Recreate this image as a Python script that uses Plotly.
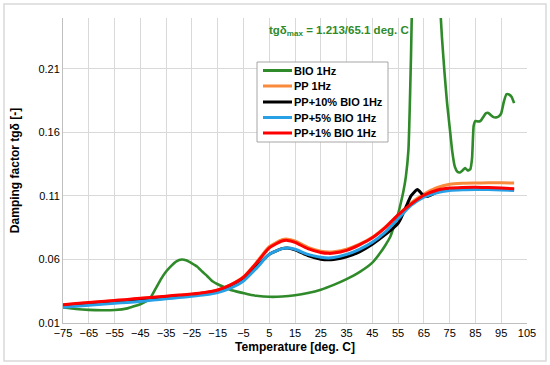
import plotly.graph_objects as go

# ---- data ----
bio_x = [-75, -70, -65, -60, -55, -50, -47.5, -45, -43, -41, -39, -37, -35, -33, -31, -29, -27, -25,
         -23, -21, -19, -17, -15, -12, -10, -5, -2, 0, 5, 10, 15, 20, 25, 30, 35, 40, 45, 48, 50, 52,
         54, 55, 56, 57, 58, 59, 60, 61, 62, 63, 64, 65.1, 66, 67, 68, 69, 70, 71, 72, 73, 74, 75,
         76, 77, 78, 79, 80, 81, 82, 83, 83.7, 84.3, 85, 86, 87, 88, 89, 90, 91, 92, 93, 94, 95, 96,
         97, 98, 99, 100]
bio_y = [0.0222, 0.0210, 0.0203, 0.0200, 0.0202, 0.0215, 0.0231, 0.0248, 0.0268, 0.0300, 0.0372,
         0.0445, 0.0505, 0.0550, 0.0585, 0.0600, 0.0592, 0.0570, 0.0545, 0.0505, 0.0468, 0.0428,
         0.0405, 0.0378, 0.0360, 0.0335, 0.0320, 0.0314, 0.0306, 0.0308, 0.0318, 0.0336, 0.0362,
         0.0400, 0.0445, 0.0500, 0.0575, 0.0650, 0.0710, 0.0780, 0.0900, 0.0960, 0.1040, 0.1130,
         0.1250, 0.1460, 0.2200, 0.3300, 0.4800, 0.7200, 1.0000, 1.2130, 1.1000, 0.8500, 0.6000,
         0.4200, 0.3100, 0.2700, 0.2350, 0.2070, 0.1830, 0.1640, 0.1450, 0.1330, 0.1290, 0.1285,
         0.1300, 0.1320, 0.1300, 0.1310, 0.1400, 0.1650, 0.1690, 0.1685, 0.1690, 0.1720, 0.1750,
         0.1753, 0.1735, 0.1720, 0.1718, 0.1725, 0.1750, 0.1840, 0.1900, 0.1898, 0.1880, 0.1830]

pp_x = [-75, -70, -65, -60, -55, -50, -45, -40, -35, -30, -25, -20, -15, -10, -5, 0, 5, 10, 12, 15,
        20, 25, 28, 30, 35, 40, 45, 50, 55, 60, 65, 70, 75, 80, 85, 90, 95, 100]
pp_y = [0.0241, 0.0250, 0.0259, 0.0267, 0.0275, 0.0282, 0.0292, 0.0300, 0.0308, 0.0317, 0.0325,
        0.0338, 0.0358, 0.0400, 0.0462, 0.0575, 0.0700, 0.0755, 0.0760, 0.0745, 0.0695, 0.0665,
        0.0658, 0.0660, 0.0680, 0.0720, 0.0775, 0.0855, 0.0950, 0.1045, 0.1115, 0.1165, 0.1192,
        0.1200, 0.1202, 0.1203, 0.1203, 0.1202]

pp10_x = [-75, -70, -65, -60, -55, -50, -45, -40, -35, -30, -25, -20, -15, -10, -5, 0, 5, 10, 12, 15,
          20, 25, 28, 30, 35, 40, 45, 50, 55, 56, 58, 60, 62.5, 64.5, 66, 68, 70, 75, 80, 85, 90,
          95, 100]
pp10_y = [0.0235, 0.0245, 0.0255, 0.0263, 0.0271, 0.0278, 0.0287, 0.0296, 0.0305, 0.0313, 0.0320,
          0.0330, 0.0348, 0.0385, 0.0440, 0.0540, 0.0640, 0.0685, 0.0690, 0.0675, 0.0630, 0.0602,
          0.0597, 0.0600, 0.0620, 0.0660, 0.0720, 0.0795, 0.0885, 0.0920, 0.1010, 0.1100, 0.1150,
          0.1110, 0.1095, 0.1110, 0.1130, 0.1150, 0.1155, 0.1158, 0.1158, 0.1155, 0.1150]

pp5_y = [0.0223, 0.0232, 0.0240, 0.0248, 0.0255, 0.0262, 0.0270, 0.0280, 0.0290, 0.0300, 0.0310,
         0.0322, 0.0340, 0.0375, 0.0430, 0.0530, 0.0640, 0.0685, 0.0690, 0.0680, 0.0640, 0.0618,
         0.0612, 0.0615, 0.0640, 0.0680, 0.0735, 0.0815, 0.0920, 0.1025, 0.1090, 0.1125, 0.1142,
         0.1148, 0.1150, 0.1150, 0.1147, 0.1143]

pp1_y = [0.0244, 0.0253, 0.0262, 0.0270, 0.0278, 0.0285, 0.0295, 0.0303, 0.0311, 0.0320, 0.0328,
         0.0340, 0.0360, 0.0400, 0.0460, 0.0570, 0.0690, 0.0745, 0.0750, 0.0735, 0.0685, 0.0655,
         0.0648, 0.0650, 0.0672, 0.0715, 0.0770, 0.0850, 0.0950, 0.1035, 0.1105, 0.1145, 0.1162,
         0.1167, 0.1168, 0.1166, 0.1162, 0.1156]

x_ticks = list(range(-75, 106, 10))
y_ticks = [0.01, 0.06, 0.11, 0.16, 0.21]

FONT = "Liberation Sans, Arial, sans-serif"

# plot area in pixels (550x365 canvas)
L, R, T, B = 63, 23, 18, 42
PW, PH = 550 - L - R, 365 - T - B


def px_x(p):
    return (p - L) / PW


def px_y(p):
    return (365 - B - p) / PH


fig = go.Figure()
series = [
    ("BIO 1Hz", bio_x, bio_y, "#2f8a2a", 2.6, 0.4),
    ("PP 1Hz", pp_x, pp_y, "#f98a3c", 3, 0.6),
    ("PP+10% BIO 1Hz", pp10_x, pp10_y, "#000000", 3, 0.5),
    ("PP+5% BIO 1Hz", pp_x, pp5_y, "#27a0e6", 3, 0.6),
    ("PP+1% BIO 1Hz", pp_x, pp1_y, "#ff0000", 3, 0.6),
]
for name, xs, ys, col, w, sm in series:
    fig.add_trace(go.Scatter(x=xs, y=ys, name=name, mode="lines", showlegend=False,
                             line=dict(color=col, width=w, shape="spline", smoothing=sm)))

# custom legend (box, line samples, labels)
shapes = [dict(type="rect", xref="paper", yref="paper",
               x0=px_x(4), x1=px_x(546), y0=px_y(361), y1=px_y(4),
               line=dict(color="#d9d9d9", width=1.5), layer="below"),
          dict(type="rect", xref="paper", yref="paper",
               x0=px_x(257), x1=px_x(388), y0=px_y(142), y1=px_y(62),
               fillcolor="white", line=dict(color="#a6a6a6", width=1), layer="above")]
annotations = [dict(x=px_x(267), y=px_y(31), xref="paper", yref="paper", xanchor="left",
                    yanchor="middle", showarrow=False,
                    text="<b>tgδ<sub>max</sub> = 1.213/65.1 deg. C</b>",
                    font=dict(family=FONT, size=11.5, color="#2f8a2a"))]
row_y = [70.5, 86, 102, 117.5, 133]
for (name, xs, ys, col, w, sm), ry in zip(series, row_y):
    shapes.append(dict(type="line", xref="paper", yref="paper",
                       x0=px_x(263), x1=px_x(292), y0=px_y(ry), y1=px_y(ry),
                       line=dict(color=col, width=3), layer="above"))
    annotations.append(dict(x=px_x(292), y=px_y(ry), xref="paper", yref="paper",
                            xanchor="left", yanchor="middle", showarrow=False,
                            text="<b>" + name + "</b>",
                            font=dict(family=FONT, size=11, color="#000")))

fig.update_layout(
    width=550, height=365,
    margin=dict(l=L, r=R, t=T, b=B),
    paper_bgcolor="white", plot_bgcolor="white",
    font=dict(family=FONT, size=11, color="#000"),
    showlegend=False,
    xaxis=dict(range=[-75, 105], tickvals=x_ticks, showgrid=True, gridcolor="#d9d9d9",
               gridwidth=1, showline=True, linecolor="#bfbfbf", linewidth=1, zeroline=False,
               ticks="", tickfont=dict(size=11), automargin=False,
               title=dict(text="<b>Temperature [deg. C]</b>", font=dict(size=12), standoff=4)),
    yaxis=dict(range=[0.01, 0.25], tickvals=y_ticks, tickformat=".2f", showgrid=True,
               gridcolor="#d9d9d9", gridwidth=1, showline=True, linecolor="#bfbfbf",
               linewidth=1, zeroline=False, ticks="", tickfont=dict(size=11), automargin=False,
               title=dict(text="<b>Damping factor tgδ [-]</b>", font=dict(size=12), standoff=16)),
    annotations=annotations,
    shapes=shapes,
)

fig.write_html("out.html", config={"displayModeBar": False},
               post_script="document.body.style.margin='0';document.body.style.padding='0';")
